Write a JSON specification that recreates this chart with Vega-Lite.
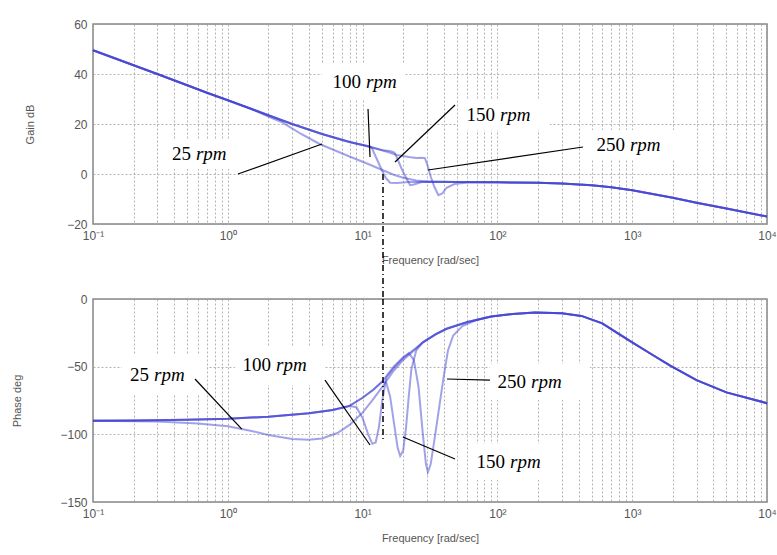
{
"$schema": "https://vega.github.io/schema/vega-lite/v6.json",
"background": "white",
"padding": {"left": 11, "top": 17, "right": 3, "bottom": 5},
"spacing": 75,
"bounds": "flush",
"config": {
 "font": "Liberation Sans",
 "view": {"stroke": "#888", "strokeWidth": 1.5},
 "axis": {"labelColor": "#555", "titleColor": "#555", "labelFontSize": 12, "titleFontSize": 11, "titleFontWeight": "normal", "gridColor": "#999", "gridDash": [2, 2], "gridOpacity": 0.75, "domain": false, "ticks": false, "labelPadding": 6}
},
"datasets": {
 "gain": [
  {"s":"25","f":0.1,"v":49.5},{"s":"25","f":0.15,"v":46},{"s":"25","f":0.2,"v":43.5},{"s":"25","f":0.3,"v":40},{"s":"25","f":0.5,"v":35.5},{"s":"25","f":0.7,"v":32.5},{"s":"25","f":1,"v":29.5},{"s":"25","f":1.5,"v":26},{"s":"25","f":2,"v":23},{"s":"25","f":2.5,"v":20.8},{"s":"25","f":3.5,"v":16},{"s":"25","f":4.8,"v":12},{"s":"25","f":6,"v":9.8},{"s":"25","f":8,"v":7},{"s":"25","f":11,"v":4},{"s":"25","f":14,"v":1.6},{"s":"25","f":17,"v":-0.3},{"s":"25","f":20,"v":-1.5},{"s":"25","f":25,"v":-2.6},{"s":"25","f":30,"v":-3},{"s":"25","f":50,"v":-3.2},{"s":"25","f":100,"v":-3.3},{"s":"25","f":200,"v":-3.5},{"s":"25","f":300,"v":-3.8},{"s":"25","f":500,"v":-4.5},{"s":"25","f":700,"v":-5.3},{"s":"25","f":1000,"v":-6.5},{"s":"25","f":2000,"v":-9.5},{"s":"25","f":3000,"v":-11.5},{"s":"25","f":5000,"v":-13.8},{"s":"25","f":10000,"v":-17},
  {"s":"100","f":0.1,"v":49.5},{"s":"100","f":0.15,"v":46},{"s":"100","f":0.2,"v":43.5},{"s":"100","f":0.3,"v":40},{"s":"100","f":0.5,"v":35.5},{"s":"100","f":0.7,"v":32.5},{"s":"100","f":1,"v":29.5},{"s":"100","f":1.5,"v":26},{"s":"100","f":2,"v":23.5},{"s":"100","f":3,"v":20},{"s":"100","f":5,"v":16},{"s":"100","f":8,"v":12.8},{"s":"100","f":10,"v":11.6},{"s":"100","f":11,"v":11.2},{"s":"100","f":11.7,"v":10.5},{"s":"100","f":12.5,"v":7},{"s":"100","f":13.5,"v":3},{"s":"100","f":14.8,"v":-1.5},{"s":"100","f":16,"v":-3.5},{"s":"100","f":18,"v":-3.6},{"s":"100","f":22,"v":-3.2},{"s":"100","f":30,"v":-3.1},{"s":"100","f":50,"v":-3.2},{"s":"100","f":100,"v":-3.3},{"s":"100","f":200,"v":-3.5},{"s":"100","f":300,"v":-3.8},{"s":"100","f":500,"v":-4.5},{"s":"100","f":700,"v":-5.3},{"s":"100","f":1000,"v":-6.5},{"s":"100","f":2000,"v":-9.5},{"s":"100","f":3000,"v":-11.5},{"s":"100","f":5000,"v":-13.8},{"s":"100","f":10000,"v":-17},
  {"s":"150","f":0.1,"v":49.5},{"s":"150","f":0.15,"v":46},{"s":"150","f":0.2,"v":43.5},{"s":"150","f":0.3,"v":40},{"s":"150","f":0.5,"v":35.5},{"s":"150","f":0.7,"v":32.5},{"s":"150","f":1,"v":29.5},{"s":"150","f":1.5,"v":26},{"s":"150","f":2,"v":23.5},{"s":"150","f":3,"v":20},{"s":"150","f":5,"v":16},{"s":"150","f":8,"v":12.8},{"s":"150","f":10,"v":11.6},{"s":"150","f":12,"v":10.5},{"s":"150","f":14,"v":9.5},{"s":"150","f":16,"v":9.2},{"s":"150","f":17.2,"v":8.6},{"s":"150","f":18,"v":6.5},{"s":"150","f":19.5,"v":2},{"s":"150","f":21,"v":-1.5},{"s":"150","f":22.5,"v":-4.5},{"s":"150","f":24,"v":-4.2},{"s":"150","f":27,"v":-3.3},{"s":"150","f":30,"v":-3.1},{"s":"150","f":50,"v":-3.2},{"s":"150","f":100,"v":-3.3},{"s":"150","f":200,"v":-3.5},{"s":"150","f":300,"v":-3.8},{"s":"150","f":500,"v":-4.5},{"s":"150","f":700,"v":-5.3},{"s":"150","f":1000,"v":-6.5},{"s":"150","f":2000,"v":-9.5},{"s":"150","f":3000,"v":-11.5},{"s":"150","f":5000,"v":-13.8},{"s":"150","f":10000,"v":-17},
  {"s":"250","f":0.1,"v":49.5},{"s":"250","f":0.15,"v":46},{"s":"250","f":0.2,"v":43.5},{"s":"250","f":0.3,"v":40},{"s":"250","f":0.5,"v":35.5},{"s":"250","f":0.7,"v":32.5},{"s":"250","f":1,"v":29.5},{"s":"250","f":1.5,"v":26},{"s":"250","f":2,"v":23.5},{"s":"250","f":3,"v":20},{"s":"250","f":5,"v":16},{"s":"250","f":8,"v":12.8},{"s":"250","f":10,"v":11.6},{"s":"250","f":14,"v":9.5},{"s":"250","f":18,"v":7.6},{"s":"250","f":22,"v":6.8},{"s":"250","f":25,"v":6.4},{"s":"250","f":27.5,"v":6.5},{"s":"250","f":29,"v":6.3},{"s":"250","f":30.5,"v":3},{"s":"250","f":32,"v":-1},{"s":"250","f":34,"v":-5},{"s":"250","f":36.5,"v":-8.5},{"s":"250","f":39,"v":-7.8},{"s":"250","f":42,"v":-5.5},{"s":"250","f":48,"v":-4},{"s":"250","f":60,"v":-3.4},{"s":"250","f":100,"v":-3.3},{"s":"250","f":200,"v":-3.5},{"s":"250","f":300,"v":-3.8},{"s":"250","f":500,"v":-4.5},{"s":"250","f":700,"v":-5.3},{"s":"250","f":1000,"v":-6.5},{"s":"250","f":2000,"v":-9.5},{"s":"250","f":3000,"v":-11.5},{"s":"250","f":5000,"v":-13.8},{"s":"250","f":10000,"v":-17}
 ],
 "phase": [
  {"s":"25","f":0.1,"v":-90},{"s":"25","f":0.3,"v":-90.5},{"s":"25","f":0.6,"v":-92},{"s":"25","f":1,"v":-94},{"s":"25","f":1.5,"v":-97.5},{"s":"25","f":2,"v":-100.5},{"s":"25","f":3,"v":-103.5},{"s":"25","f":4,"v":-104},{"s":"25","f":5,"v":-103},{"s":"25","f":6.5,"v":-99},{"s":"25","f":8,"v":-93},{"s":"25","f":10,"v":-84},{"s":"25","f":12,"v":-74},{"s":"25","f":14,"v":-65},{"s":"25","f":17,"v":-53},{"s":"25","f":20,"v":-45},{"s":"25","f":25,"v":-36.5},{"s":"25","f":28,"v":-32},{"s":"25","f":35,"v":-26},{"s":"25","f":42,"v":-22},{"s":"25","f":60,"v":-17},{"s":"25","f":90,"v":-13},{"s":"25","f":130,"v":-11},{"s":"25","f":190,"v":-10},{"s":"25","f":300,"v":-10.5},{"s":"25","f":420,"v":-12.5},{"s":"25","f":600,"v":-18},{"s":"25","f":800,"v":-26},{"s":"25","f":1000,"v":-32},{"s":"25","f":1400,"v":-41},{"s":"25","f":1900,"v":-49},{"s":"25","f":3000,"v":-60},{"s":"25","f":5000,"v":-69},{"s":"25","f":10000,"v":-77},
  {"s":"100","f":0.1,"v":-90},{"s":"100","f":0.2,"v":-89.8},{"s":"100","f":0.5,"v":-89.3},{"s":"100","f":1,"v":-88.5},{"s":"100","f":2,"v":-87},{"s":"100","f":4,"v":-84.5},{"s":"100","f":6,"v":-82},{"s":"100","f":8,"v":-79},{"s":"100","f":9,"v":-80},{"s":"100","f":10,"v":-88},{"s":"100","f":11,"v":-100},{"s":"100","f":11.8,"v":-107},{"s":"100","f":12.5,"v":-106},{"s":"100","f":13.2,"v":-95},{"s":"100","f":14,"v":-75},{"s":"100","f":15,"v":-58},{"s":"100","f":17,"v":-51},{"s":"100","f":20,"v":-43.5},{"s":"100","f":25,"v":-36},{"s":"100","f":28,"v":-32},{"s":"100","f":35,"v":-26},{"s":"100","f":42,"v":-22},{"s":"100","f":60,"v":-17},{"s":"100","f":90,"v":-13},{"s":"100","f":130,"v":-11},{"s":"100","f":190,"v":-10},{"s":"100","f":300,"v":-10.5},{"s":"100","f":420,"v":-12.5},{"s":"100","f":600,"v":-18},{"s":"100","f":800,"v":-26},{"s":"100","f":1000,"v":-32},{"s":"100","f":1400,"v":-41},{"s":"100","f":1900,"v":-49},{"s":"100","f":3000,"v":-60},{"s":"100","f":5000,"v":-69},{"s":"100","f":10000,"v":-77},
  {"s":"150","f":0.1,"v":-90},{"s":"150","f":0.2,"v":-89.8},{"s":"150","f":0.5,"v":-89.3},{"s":"150","f":1,"v":-88.5},{"s":"150","f":2,"v":-87},{"s":"150","f":4,"v":-84.5},{"s":"150","f":6,"v":-82},{"s":"150","f":8,"v":-79},{"s":"150","f":10,"v":-73},{"s":"150","f":12,"v":-67},{"s":"150","f":14,"v":-61},{"s":"150","f":15,"v":-62},{"s":"150","f":16,"v":-72},{"s":"150","f":17,"v":-90},{"s":"150","f":18.2,"v":-110},{"s":"150","f":19,"v":-116},{"s":"150","f":20,"v":-112},{"s":"150","f":21,"v":-95},{"s":"150","f":22,"v":-72},{"s":"150","f":23,"v":-52},{"s":"150","f":25,"v":-38},{"s":"150","f":28,"v":-32},{"s":"150","f":35,"v":-26},{"s":"150","f":42,"v":-22},{"s":"150","f":60,"v":-17},{"s":"150","f":90,"v":-13},{"s":"150","f":130,"v":-11},{"s":"150","f":190,"v":-10},{"s":"150","f":300,"v":-10.5},{"s":"150","f":420,"v":-12.5},{"s":"150","f":600,"v":-18},{"s":"150","f":800,"v":-26},{"s":"150","f":1000,"v":-32},{"s":"150","f":1400,"v":-41},{"s":"150","f":1900,"v":-49},{"s":"150","f":3000,"v":-60},{"s":"150","f":5000,"v":-69},{"s":"150","f":10000,"v":-77},
  {"s":"250","f":0.1,"v":-90},{"s":"250","f":0.2,"v":-89.8},{"s":"250","f":0.5,"v":-89.3},{"s":"250","f":1,"v":-88.5},{"s":"250","f":2,"v":-87},{"s":"250","f":4,"v":-84.5},{"s":"250","f":6,"v":-82},{"s":"250","f":8,"v":-79},{"s":"250","f":10,"v":-73},{"s":"250","f":12,"v":-67},{"s":"250","f":14,"v":-61},{"s":"250","f":17,"v":-50},{"s":"250","f":20,"v":-43},{"s":"250","f":22,"v":-40},{"s":"250","f":24,"v":-45},{"s":"250","f":26,"v":-65},{"s":"250","f":28,"v":-100},{"s":"250","f":29.5,"v":-122},{"s":"250","f":30.5,"v":-128},{"s":"250","f":32,"v":-122},{"s":"250","f":34,"v":-105},{"s":"250","f":37,"v":-80},{"s":"250","f":40,"v":-57},{"s":"250","f":43,"v":-38},{"s":"250","f":47,"v":-27},{"s":"250","f":55,"v":-20},{"s":"250","f":70,"v":-15.5},{"s":"250","f":90,"v":-13},{"s":"250","f":130,"v":-11},{"s":"250","f":190,"v":-10},{"s":"250","f":300,"v":-10.5},{"s":"250","f":420,"v":-12.5},{"s":"250","f":600,"v":-18},{"s":"250","f":800,"v":-26},{"s":"250","f":1000,"v":-32},{"s":"250","f":1400,"v":-41},{"s":"250","f":1900,"v":-49},{"s":"250","f":3000,"v":-60},{"s":"250","f":5000,"v":-69},{"s":"250","f":10000,"v":-77}
 ],
 "gainBoxes": [
  {"f":5.0,"f2":20.6,"v":44,"v2":30},
  {"f":51,"f2":245,"v":29.6,"v2":17.6},
  {"f":486,"f2":2265,"v":17.6,"v2":5.6},
  {"f":0.342,"f2":1.34,"v":14,"v2":2}
 ],
 "gainLeaders": [
  {"f":10.97,"v":26,"f2":11.35,"v2":6.8},
  {"f":48.5,"v":27.6,"f2":17.4,"v2":4.8},
  {"f":431.5,"v":10.8,"f2":30.6,"v2":1.6},
  {"f":1.19,"v":0,"f2":5.0,"v2":12}
 ],
 "gainLabels": [
  {"num":"100","f":9.9,"v":36.8},
  {"num":"150","f":97.6,"v":23.6},
  {"num":"250","f":899,"v":11.6},
  {"num":"25","f":0.542,"v":8}
 ],
 "gainMarker": [{"f":14.17,"v":0,"v2":-50}],
 "phaseBoxes": [
  {"f":0.164,"f2":0.70,"v":-41.4,"v2":-70.9},
  {"f":1.13,"f2":5.26,"v":-35.5,"v2":-63.6},
  {"f":88,"f2":486,"v":-48,"v2":-74.6},
  {"f":60.5,"f2":282,"v":-107,"v2":-133.8}
 ],
 "phaseLeaders": [
  {"f":0.571,"v":-59.1,"f2":1.27,"v2":-96.1},
  {"f":5.26,"v":-59.9,"f2":11.35,"v2":-107.9},
  {"f":88.1,"v":-59.9,"f2":42.3,"v2":-59.1},
  {"f":48.5,"v":-118.2,"f2":19.9,"v2":-102}
 ],
 "phaseLabels": [
  {"num":"25","f":0.265,"v":-56},
  {"num":"100","f":2.13,"v":-48.8},
  {"num":"250","f":165.8,"v":-61.3},
  {"num":"150","f":115.9,"v":-120.5}
 ],
 "phaseMarker": [{"f":14.17,"v":0,"v2":-103.5}]
},
"vconcat": [
 {
  "width": 674,
  "height": 200,
  "encoding": {
   "x": {"field": "f", "type": "quantitative", "scale": {"type": "log", "domain": [0.1, 10000]},
    "axis": {"title": "Frequency [rad/sec]", "values": [0.1,0.2,0.3,0.4,0.5,0.6,0.7,0.8,0.9,1,2,3,4,5,6,7,8,9,10,20,30,40,50,60,70,80,90,100,200,300,400,500,600,700,800,900,1000,2000,3000,4000,5000,6000,7000,8000,9000,10000],
     "labelExpr": "abs(log(datum.value)/LN10 - round(log(datum.value)/LN10)) < 0.001 ? '10' + ['⁻¹','⁰','¹','²','³','⁴'][round(log(datum.value)/LN10)+1] : ''",
     "labelFlush": false, "labelOverlap": false, "titlePadding": 13}},
   "y": {"field": "v", "type": "quantitative", "scale": {"domain": [-20, 60], "nice": false},
    "axis": {"title": "Gain dB", "values": [-20, 0, 20, 40, 60], "titlePadding": 31}}
  },
  "layer": [
   {"data": {"name": "gain"}, "mark": {"type": "line", "color": "#3a3ad0", "strokeWidth": 2, "opacity": 0.47}, "encoding": {"detail": {"field": "s"}}},
   {"data": {"name": "gainBoxes"}, "mark": {"type": "rect", "color": "white"}, "encoding": {"x2": {"field": "f2"}, "y2": {"field": "v2"}}},
   {"data": {"name": "gainLeaders"}, "mark": {"type": "rule", "color": "black", "strokeWidth": 1.2}, "encoding": {"x2": {"field": "f2"}, "y2": {"field": "v2"}}},
   {"data": {"name": "gainLabels"}, "mark": {"type": "text", "align": "right", "baseline": "middle", "font": "Liberation Serif", "fontSize": 19, "dx": -1, "color": "black"}, "encoding": {"text": {"field": "num"}}},
   {"data": {"name": "gainLabels"}, "mark": {"type": "text", "align": "left", "baseline": "middle", "font": "Liberation Serif", "fontSize": 19, "fontStyle": "italic", "dx": 4, "color": "black"}, "encoding": {"text": {"value": "rpm"}}},
   {"data": {"name": "gainMarker"}, "mark": {"type": "rule", "color": "black", "strokeWidth": 1.5, "strokeDash": [6, 3, 1, 3], "clip": false}, "encoding": {"y2": {"field": "v2"}}}
  ]
 },
 {
  "width": 674,
  "height": 203,
  "encoding": {
   "x": {"field": "f", "type": "quantitative", "scale": {"type": "log", "domain": [0.1, 10000]},
    "axis": {"title": "Frequency [rad/sec]", "values": [0.1,0.2,0.3,0.4,0.5,0.6,0.7,0.8,0.9,1,2,3,4,5,6,7,8,9,10,20,30,40,50,60,70,80,90,100,200,300,400,500,600,700,800,900,1000,2000,3000,4000,5000,6000,7000,8000,9000,10000],
     "labelExpr": "abs(log(datum.value)/LN10 - round(log(datum.value)/LN10)) < 0.001 ? '10' + ['⁻¹','⁰','¹','²','³','⁴'][round(log(datum.value)/LN10)+1] : ''",
     "labelFlush": false, "labelOverlap": false, "titlePadding": 13}},
   "y": {"field": "v", "type": "quantitative", "scale": {"domain": [-150, 0], "nice": false},
    "axis": {"title": "Phase deg", "values": [-150, -100, -50, 0], "titlePadding": 37}}
  },
  "layer": [
   {"data": {"name": "phase"}, "mark": {"type": "line", "color": "#3a3ad0", "strokeWidth": 2, "opacity": 0.47}, "encoding": {"detail": {"field": "s"}}},
   {"data": {"name": "phaseBoxes"}, "mark": {"type": "rect", "color": "white"}, "encoding": {"x2": {"field": "f2"}, "y2": {"field": "v2"}}},
   {"data": {"name": "phaseLeaders"}, "mark": {"type": "rule", "color": "black", "strokeWidth": 1.2}, "encoding": {"x2": {"field": "f2"}, "y2": {"field": "v2"}}},
   {"data": {"name": "phaseLabels"}, "mark": {"type": "text", "align": "right", "baseline": "middle", "font": "Liberation Serif", "fontSize": 19, "dx": -1, "color": "black"}, "encoding": {"text": {"field": "num"}}},
   {"data": {"name": "phaseLabels"}, "mark": {"type": "text", "align": "left", "baseline": "middle", "font": "Liberation Serif", "fontSize": 19, "fontStyle": "italic", "dx": 4, "color": "black"}, "encoding": {"text": {"value": "rpm"}}},
   {"data": {"name": "phaseMarker"}, "mark": {"type": "rule", "color": "black", "strokeWidth": 1.5, "strokeDash": [6, 3, 1, 3]}, "encoding": {"y2": {"field": "v2"}}}
  ]
 }
]
}
